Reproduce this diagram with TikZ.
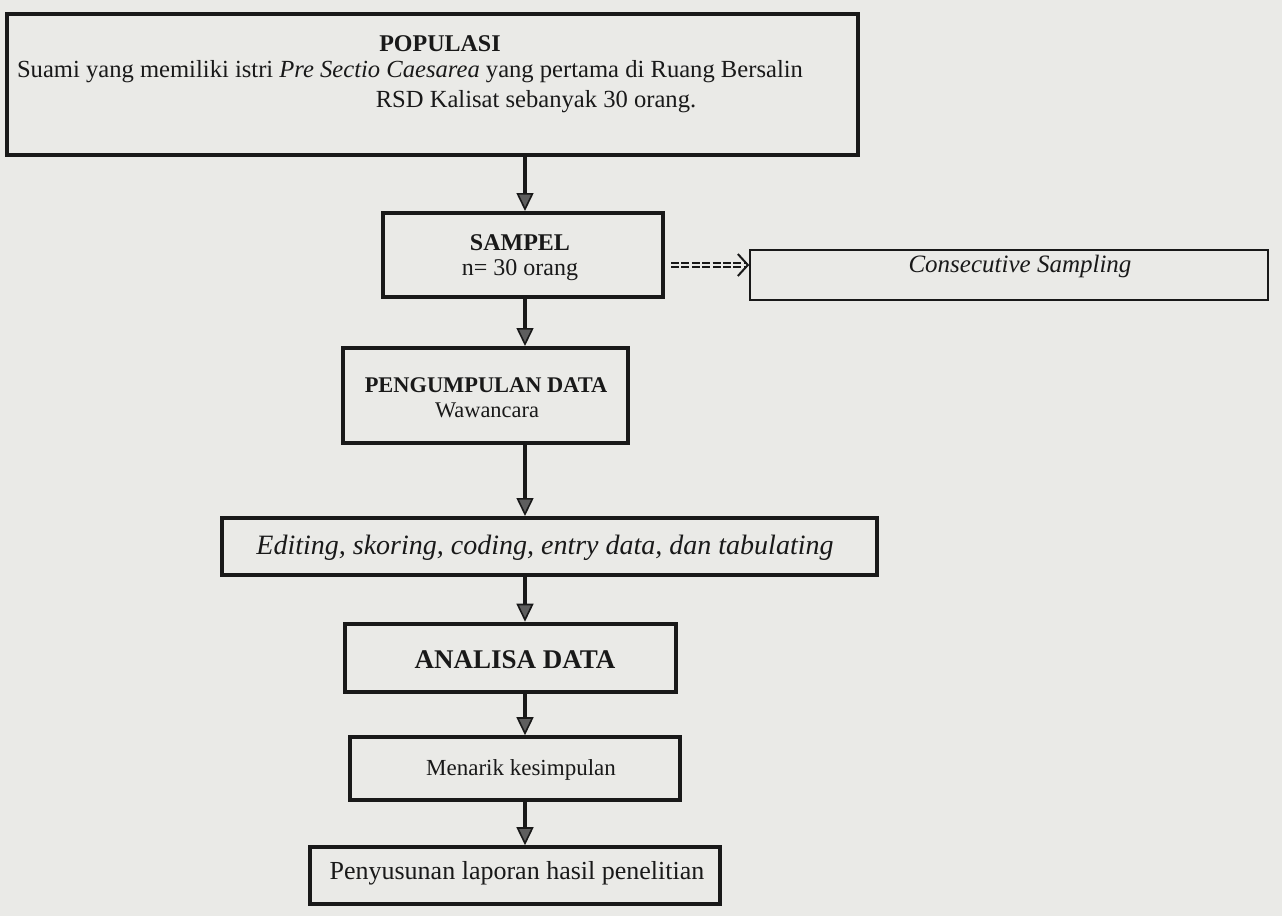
\documentclass[tikz,border=0pt]{standalone}
\usepackage{fontspec}
\setmainfont{Liberation Serif}
\usetikzlibrary{arrows.meta,fit}
\definecolor{paper}{RGB}{234,234,231}
\definecolor{ink}{RGB}{25,25,25}
\tikzset{
  box/.style={draw=ink, line width=2pt, inner sep=0pt, fill=paper},
  thinbox/.style={draw=ink, line width=0.8pt, inner sep=0pt, fill=paper},
  txt/.style={inner sep=0pt, text=ink, font=\fontsize{12}{14}\selectfont},
  flow/.style={draw=ink, line width=1.8pt, -{Triangle[length=9pt,width=8.5pt,fill=ink!70,line width=0.8pt]}},
  dflow/.style={draw=ink, double=paper, double distance=1.4pt, line width=0.7pt,
    dash pattern=on 4pt off 1.2pt, -{Straight Barb[length=5pt,width=11pt,line width=1pt]}}
}
\begin{document}
\begin{tikzpicture}[x=0.5pt,y=-0.5pt]
\fill[paper] (0,0) rectangle (1282,916);
\useasboundingbox (0,0) rectangle (1282,916);
% boxes
\node[box, fit={(7,14) (858,155)}] (pop) {};
\node[box, fit={(383,213) (663,297)}] (sam) {};
\node[thinbox, fit={(750,250) (1268,300)}] (con) {};
\node[box, fit={(343,348) (628,443)}] (peng) {};
\node[box, fit={(222,518) (877,575)}] (edit) {};
\node[box, line width=2.3pt, fit={(345,624) (676,692)}] (ana) {};
\node[box, line width=1.8pt, fit={(350,737) (680,800)}] (men) {};
\node[box, line width=1.8pt, fit={(310,847) (720,904)}] (pen) {};
% texts
\node[txt, font=\fontsize{12}{14}\selectfont\bfseries] (t1) at (440,44) {POPULASI};
\node[txt, font=\fontsize{12.3}{14}\selectfont] (t2) at (410,72) {Suami yang memiliki istri \textit{Pre Sectio Caesarea} yang pertama di Ruang Bersalin};
\node[txt, font=\fontsize{12.3}{14}\selectfont] (t3) at (536,102) {RSD Kalisat sebanyak 30 orang.};
\node[txt, font=\fontsize{12}{14}\selectfont\bfseries] (t4) at (520,243) {SAMPEL};
\node[txt] (t5) at (520,270) {n= 30 orang};
\node[txt, font=\fontsize{12.5}{14}\selectfont] (t6) at (1020,266) {\textit{Consecutive Sampling}};
\node[txt, font=\fontsize{11.2}{14}\selectfont\bfseries] (t7) at (486,385) {PENGUMPULAN DATA};
\node[txt, font=\fontsize{11.2}{14}\selectfont] (t8) at (487,410) {Wawancara};
\node[txt, font=\fontsize{14}{16}\selectfont] (t9) at (545,548) {\textit{Editing, skoring, coding, entry data, dan tabulating}};
\node[txt, font=\fontsize{13.5}{16}\selectfont\bfseries] (t10) at (515,660) {ANALISA DATA};
\node[txt, font=\fontsize{11.5}{14}\selectfont] (t11) at (521,770) {Menarik kesimpulan};
\node[txt, font=\fontsize{13}{15}\selectfont] (t12) at (517,873) {Penyusunan laporan hasil penelitian};
% connectors
\coordinate (ax) at (525,0);
\coordinate (dy) at (0,265);
\draw[flow] (pop.south -| ax) -- (sam.north -| ax);
\draw[flow] (sam.south -| ax) -- (peng.north -| ax);
\draw[flow] (peng.south -| ax) -- (edit.north -| ax);
\draw[flow] (edit.south -| ax) -- (ana.north -| ax);
\draw[flow] (ana.south -| ax) -- (men.north -| ax);
\draw[flow] (men.south -| ax) -- (pen.north -| ax);
\draw[dflow] ([xshift=3pt]sam.east |- dy) -- (con.west |- dy);
\end{tikzpicture}
\end{document}
